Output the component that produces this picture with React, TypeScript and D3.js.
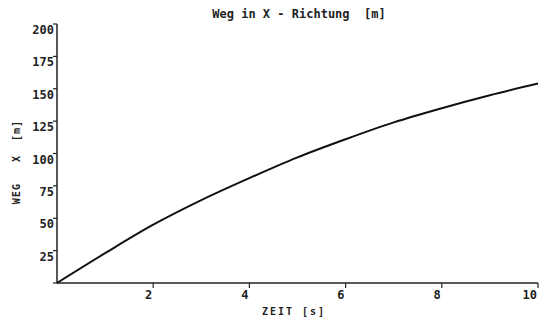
import React from 'react';
import * as d3 from 'd3';

const zeit = [0, 1, 2, 3, 4, 5, 6, 7, 8, 9, 10];
const weg = [0, 23, 45, 64, 81, 97, 111, 124, 135, 145, 154];
const xTicks = [2, 4, 6, 8, 10];
const yTicks = [25, 50, 75, 100, 125, 150, 175, 200];

const font = "'DejaVu Sans Mono', monospace";

export default function App() {
  const width = 540;
  const height = 323;
  const margin = { top: 24, right: 2, bottom: 40, left: 57 };

  const x = d3.scaleLinear().domain([0, 10]).range([margin.left, width - margin.right]);
  const y = d3.scaleLinear().domain([0, 200]).range([height - margin.bottom, margin.top]);

  const line = d3
    .line<number>()
    .x((d, i) => x(zeit[i]))
    .y(d => y(d))
    .curve(d3.curveMonotoneX);

  const x0 = x(0);
  const y0 = y(0);

  return (
    <svg width={width} height={height} style={{ position: 'absolute', left: 0, top: 0, background: '#fff' }}>
      <text x={299} y={18} textAnchor="middle" fontFamily={font} fontWeight="bold" fontSize={12} fill="#222" style={{ whiteSpace: 'pre' }}>
        {'Weg in X - Richtung  [m]'}
      </text>

      {/* axes */}
      <line x1={x0} x2={x(10)} y1={y0} y2={y0} stroke="#222" strokeWidth={1.5} />
      <line x1={x0} x2={x0} y1={y0} y2={y(200)} stroke="#222" strokeWidth={1.5} />

      {yTicks.map(t => (
        <g key={t}>
          <line x1={x0 - 4} x2={x0} y1={y(t)} y2={y(t)} stroke="#222" strokeWidth={1.2} />
          <text x={x0 - 3} y={y(t) + 10} textAnchor="end" fontFamily={font} fontWeight="bold" fontSize={12} fill="#222">
            {t}
          </text>
        </g>
      ))}
      <line x1={x0 - 4} x2={x0} y1={y0} y2={y0} stroke="#222" strokeWidth={1.2} />

      {xTicks.map(t => (
        <g key={t}>
          <line x1={x(t)} x2={x(t)} y1={y0} y2={y0 + 5} stroke="#222" strokeWidth={1.2} />
          <text x={x(t) - 1} y={y0 + 16} textAnchor="end" fontFamily={font} fontWeight="bold" fontSize={12} fill="#222">
            {t}
          </text>
        </g>
      ))}

      <text x={294} y={315} textAnchor="middle" fontFamily={font} fontWeight="bold" fontSize={10} letterSpacing={2} fill="#222" style={{ whiteSpace: 'pre' }}>
        {'ZEIT [s]'}
      </text>
      <text
        transform={`translate(20,162) rotate(-90)`}
        textAnchor="middle"
        fontFamily={font}
        fontWeight="bold"
        fontSize={10}
        letterSpacing={1}
        fill="#222"
        style={{ whiteSpace: 'pre' }}
      >
        {'WEG   X  [m]'}
      </text>

      <path d={line(weg) ?? ''} fill="none" stroke="#111" strokeWidth={2} />
    </svg>
  );
}
